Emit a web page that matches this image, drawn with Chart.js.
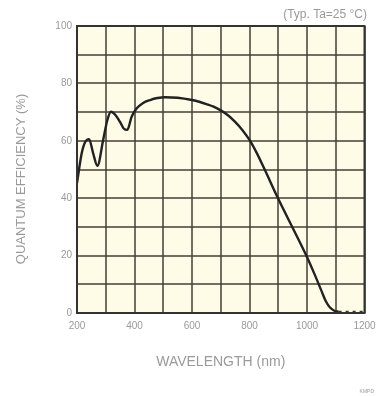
<!DOCTYPE html>
<html>
<head>
<meta charset="utf-8">
<script src="https://cdn.jsdelivr.net/npm/chart.js@4"></script>
<style>
  html, body { margin: 0; padding: 0; background: #ffffff; }
  #wrap { width: 378px; height: 396px; position: relative; }
</style>
</head>
<body>
<div id="wrap"><canvas id="c" width="378" height="396"></canvas></div>
<script>
// ---- Data ----
const wavelengths = [200, 216, 228, 242, 256, 271, 291, 305, 318, 335, 350, 363, 375, 390, 408, 430, 454, 480, 506, 550, 600, 625, 650, 675, 700, 725, 750, 775, 800, 825, 850, 900, 950, 1000, 1025, 1050, 1065, 1080, 1095, 1110];
const quantumEff = [45.3, 55.5, 59.5, 60.6, 55.7, 51.3, 60.3, 67.0, 70.1, 68.8, 66.5, 64.2, 63.8, 68.4, 71.3, 73.2, 74.2, 74.9, 75.2, 75.0, 74.2, 73.6, 72.8, 71.9, 70.6, 68.9, 66.6, 63.8, 60.3, 55.8, 50.6, 39.8, 29.7, 19.5, 13.8, 7.8, 4.2, 1.9, 0.8, 0.4];
const tailWavelengths = [1110, 1195];
const tailEff = [0.4, 0.4];
const xTickLabels = ['200', '400', '600', '800', '1000', '1200'];
const yTickLabels = ['0', '20', '40', '60', '80', '100'];
const noteText = '(Typ. Ta=25 °C)';
const xTitle = 'WAVELENGTH (nm)';
const yTitle = 'QUANTUM EFFICIENCY (%)';
const codeText = 'KMPD';

const mainData = wavelengths.map((w, i) => ({ x: w, y: quantumEff[i] }));
const tailData = tailWavelengths.map((w, i) => ({ x: w, y: tailEff[i] }));

const fontFam = '"Liberation Sans", Arial, sans-serif';
const txtColor = '#9a9a9a';
const gridColor = 'rgba(70,62,52,0.75)';

const plotDeco = {
  id: 'plotDeco',
  beforeDraw(chart) {
    const { ctx, chartArea: a } = chart;
    ctx.save();
    ctx.fillStyle = '#fefbe6';
    ctx.fillRect(a.left, a.top, a.right - a.left, a.bottom - a.top);
    ctx.restore();
  },
  afterDraw(chart) {
    const { ctx, chartArea: a } = chart;
    ctx.save();
    ctx.strokeStyle = '#333';
    ctx.lineWidth = 2;
    ctx.strokeRect(a.left, a.top, a.right - a.left, a.bottom - a.top);
    ctx.fillStyle = txtColor;
    ctx.font = '12px ' + fontFam;
    ctx.textAlign = 'right';
    ctx.textBaseline = 'middle';
    ctx.fillText(noteText, 367, 15);
    ctx.font = '5px ' + fontFam;
    ctx.fillText(codeText, 374, 392);
    // rotated y-axis title
    ctx.translate(21, 179);
    ctx.rotate(-Math.PI / 2);
    ctx.textAlign = 'center';
    ctx.font = '13px ' + fontFam;
    ctx.fillText(yTitle, 0, 0);
    ctx.restore();
  }
};

new Chart(document.getElementById('c'), {
  type: 'line',
  data: {
    datasets: [
      {
        data: mainData,
        borderColor: '#222',
        borderWidth: 2.4,
        pointRadius: 0,
        cubicInterpolationMode: 'monotone',
        fill: false
      },
      {
        data: tailData,
        borderColor: '#333',
        borderWidth: 2.4,
        borderDash: [3, 4],
        pointRadius: 0,
        fill: false
      }
    ]
  },
  options: {
    responsive: false,
    animation: false,
    layout: { padding: { left: 14, right: 13.5, top: 26, bottom: 20 } },
    plugins: { legend: { display: false }, tooltip: { enabled: false } },
    scales: {
      x: {
        type: 'linear',
        min: 200,
        max: 1200,
        afterFit(s) { s.height = 63; s.paddingRight = 0; s.paddingLeft = 0; },
        ticks: {
          stepSize: 100,
          autoSkip: false,
          maxRotation: 0,
          padding: 7,
          color: txtColor,
          font: { family: fontFam, size: 10 },
          callback(v) { const l = String(v); return xTickLabels.includes(l) ? l : ''; }
        },
        grid: { color: gridColor, lineWidth: 2, drawTicks: false },
        border: { display: false },
        title: {
          display: true,
          text: xTitle,
          color: txtColor,
          font: { family: fontFam, size: 14 },
          padding: { top: 0, bottom: 5 }
        }
      },
      y: {
        type: 'linear',
        min: 0,
        max: 100,
        afterFit(s) { s.width = 63; },
        ticks: {
          stepSize: 10,
          autoSkip: false,
          padding: 5,
          color: txtColor,
          font: { family: fontFam, size: 10 },
          callback(v) { const l = String(v); return yTickLabels.includes(l) ? l : ''; }
        },
        grid: { color: gridColor, lineWidth: 2, drawTicks: false },
        border: { display: false },
        title: { display: false }
      }
    }
  },
  plugins: [plotDeco]
});
</script>
</body>
</html>
